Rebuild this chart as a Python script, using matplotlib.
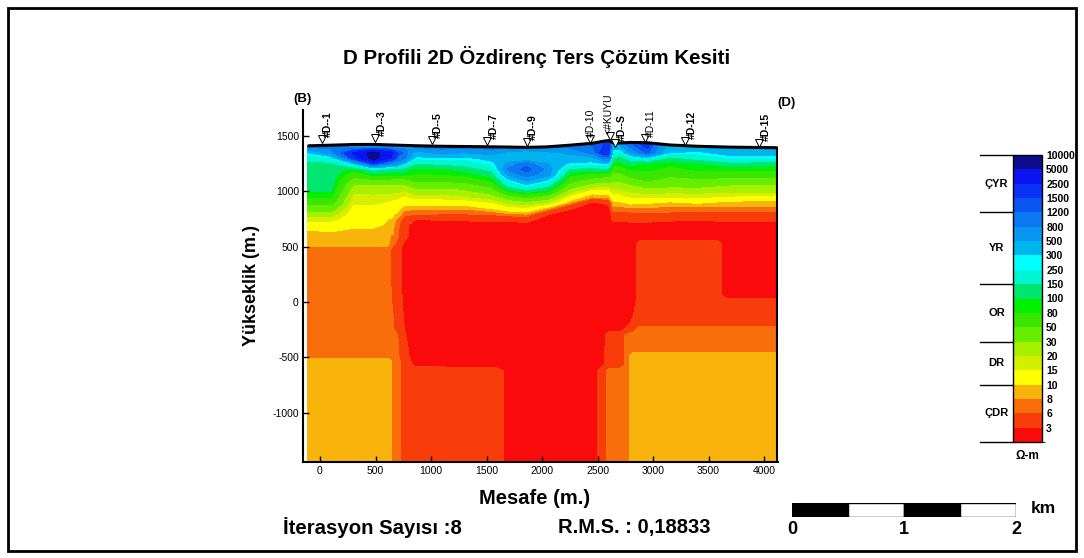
import numpy as np
import matplotlib
matplotlib.use("Agg")
import matplotlib.pyplot as plt
from matplotlib.colors import ListedColormap, BoundaryNorm
from matplotlib.colorbar import ColorbarBase
from matplotlib.patches import Rectangle

plt.rcParams['font.family'] = ['Liberation Sans', 'DejaVu Sans']
plt.rcParams['axes.unicode_minus'] = False

# resistivity class boundaries (ohm-m) and colours, bottom to top
bounds = [1, 3, 6, 8, 10, 15, 20, 30, 50, 80, 100, 150, 250, 300, 500, 800,
          1200, 1500, 2500, 5000, 10000]
cb_colors = ['#fa0a0a', '#f83c0a', '#f86e0a', '#f8b40a', '#ffff00', '#d4f000',
             '#a6f000', '#66ee00', '#3ae600', '#00f000', '#00e670', '#00f5d2',
             '#00ffff', '#00b4f0', '#0a96f0', '#0a78f0', '#0a55f0', '#0a32f5',
             '#0a14f0', '#0c0c8c']
cb_labels = ['3', '6', '8', '10', '15', '20', '30', '50', '80', '100', '150',
             '250', '300', '500', '800', '1200', '1500', '2500', '5000', '10000']
class_names = ['ÇDR', 'DR', 'OR', 'YR', 'ÇYR']
class_edges = [0, 4, 7, 11, 16, 20]

# ---- upper part of the section: surface down to 600 m ----
up_x = [-110, 100, 300, 480, 640, 700, 760, 860, 1100, 1300, 1550, 1700, 1860,
        2050, 2250, 2450, 2560, 2600, 2640, 2700, 2800, 2950, 3150, 3400, 3700, 4120]
topo = [1412, 1418, 1424, 1425, 1420, 1418, 1416, 1413, 1408, 1406, 1403, 1401, 1398,
        1403, 1418, 1435, 1455, 1460, 1440, 1438, 1443, 1440, 1420, 1408, 1400, 1395]
up_z = [1350, 1300, 1250, 1200, 1150, 1100, 1050, 1000, 950, 900, 850, 800, 750,
        700, 650, 600]
# one profile per column: surface, then the up_z levels
up_rho = [
    [1000, 300, 200, 120, 120, 120, 120, 115, 100, 85, 60, 40, 25, 17, 12, 10, 9],
    [1000, 650, 220, 130, 120, 120, 120, 115, 100, 85, 60, 40, 25, 17, 12, 10.5, 9],
    [350, 2600, 1800, 300, 90, 60, 40, 28, 22, 17, 16, 13, 12, 11.5, 11, 9.5, 9],
    [300, 6500, 7000, 1600, 180, 85, 45, 26, 22, 18, 16, 13, 12, 11.5, 11, 9.5, 9],
    [400, 3000, 2400, 700, 130, 85, 42, 27, 22, 17, 14, 12, 11, 9.8, 9.3, 9, 9],
    [450, 1500, 1100, 550, 130, 85, 40, 27, 21, 16, 13, 11, 9.5, 7.5, 6.8, 6.5, 6.5],
    [600, 1100, 900, 280, 120, 85, 40, 27, 19, 14, 11, 9, 7, 5, 4, 3.8, 4],
    [1000, 400, 270, 140, 90, 78, 55, 35, 24, 17, 12, 8.5, 6.5, 3.2, 2, 2, 2],
    [1000, 600, 280, 160, 95, 78, 55, 35, 24, 17, 12, 8.5, 6.3, 3.3, 2, 2, 2],
    [950, 500, 270, 180, 110, 85, 60, 38, 26, 19, 12, 8.5, 6.2, 3.5, 2.2, 2, 2],
    [1000, 600, 350, 260, 170, 110, 85, 55, 38, 24, 15, 10.5, 6.8, 3.8, 2.2, 2, 2],
    [700, 450, 280, 600, 900, 550, 260, 160, 85, 40, 22, 13, 8, 4, 2.2, 2, 2],
    [700, 420, 290, 1000, 1400, 1000, 520, 260, 110, 55, 26, 14, 8.5, 4.5, 2.2, 2, 2],
    [900, 450, 280, 520, 700, 600, 280, 160, 85, 40, 20, 9, 3.5, 2, 2, 2, 2],
    [1000, 550, 400, 270, 130, 85, 60, 38, 23, 13, 8.5, 3.5, 2, 2, 2, 2, 2],
    [1300, 900, 400, 260, 120, 70, 40, 23, 12, 8, 2.8, 2, 2, 2, 2, 2, 2],
    [1400, 2000, 900, 290, 130, 60, 35, 22, 12, 8.5, 3.5, 2, 2, 2, 2, 2, 2],
    [2200, 1800, 900, 280, 120, 60, 35, 22, 12, 8.5, 4, 2.5, 2, 2, 2, 2, 2],
    [600, 230, 130, 90, 60, 40, 32, 24, 17, 13, 9.2, 7.5, 5, 3.5, 2.5, 2, 2],
    [600, 200, 120, 90, 65, 42, 32, 24, 17, 13, 9.5, 7.5, 5, 3.5, 2.3, 2, 2],
    [1300, 550, 180, 110, 85, 60, 40, 27, 21, 15.5, 11, 7.8, 5.5, 3.8, 2.5, 2, 2],
    [1800, 1300, 260, 90, 88, 62, 52, 35, 23, 15.5, 10.5, 7.8, 5.8, 3.8, 2.5, 2, 2],
    [400, 300, 120, 88, 70, 55, 40, 32, 22, 15.5, 9.5, 7.5, 5.5, 3.5, 2.3, 2, 2],
    [400, 280, 170, 95, 85, 62, 45, 33, 22, 16, 10.5, 7.5, 5.5, 3.3, 2.2, 2, 2],
    [450, 350, 260, 120, 85, 60, 42, 28, 22, 14, 9, 7.5, 5, 3.5, 2.5, 2, 2],
    [450, 350, 260, 110, 85, 62, 42, 28, 22, 12, 9, 7.5, 5, 3.5, 2.5, 2, 2],
]

# ---- lower part: 600 m down to the bottom ----
lo_x = [-110, 600, 700, 760, 860, 1600, 1700, 2460, 2540, 2600, 2700, 2760, 2820,
        2880, 3580, 3660, 4120]
lo_z = [600, 520, 480, 380, 60, 10, -180, -240, -300, -430, -480, -530, -570, -620, -1450]
lo_rho = [
    [9, 9, 7, 7, 7, 7, 7, 7, 7, 7, 7, 9, 9, 9, 9],
    [9, 9, 7, 7, 7, 7, 7, 7, 7, 7, 7, 9, 9, 9, 9],
    [6.5, 5, 4.5, 4.5, 4.8, 5, 5.5, 5.5, 6, 6.5, 6.5, 7, 7, 7, 7],
    [4, 2.5, 2, 2, 2.3, 2.4, 2.8, 3, 3.2, 3.8, 4, 4.5, 5, 5, 5],
    [2, 2, 2, 2, 2, 2, 2, 2, 2, 2, 2, 2.2, 2.6, 4.5, 4.5],
    [2, 2, 2, 2, 2, 2, 2, 2, 2, 2, 2, 2, 2, 4.5, 4.5],
    [2, 2, 2, 2, 2, 2, 2, 2, 2, 2, 2, 2, 2, 2, 2],
    [2, 2, 2, 2, 2, 2, 2, 2, 2, 2, 2, 2, 2, 2, 2],
    [2, 2, 2, 2, 2, 2, 2, 2, 2, 2.2, 2.3, 2.4, 2.5, 4.5, 4.5],
    [2, 2, 2, 2, 2, 2, 2, 2, 4.5, 4.5, 4.5, 4.5, 4.5, 7, 7],
    [2, 2, 2, 2, 2, 2, 2, 2, 4.5, 4.5, 4.5, 4.5, 4.5, 7, 7],
    [2, 2, 2, 2, 2, 2, 2, 3.5, 6.5, 7, 7, 7, 7, 7, 7],
    [2, 2, 2, 2, 2, 2, 3.5, 5, 7, 7, 9, 9, 9, 9, 9],
    [2, 4.5, 4.5, 4.5, 4.5, 4.5, 4.5, 7, 7, 7, 9, 9, 9, 9, 9],
    [2, 4.5, 4.5, 4.5, 4.5, 4.5, 4.5, 7, 7, 7, 9, 9, 9, 9, 9],
    [2, 2, 2, 2, 2, 4.5, 4.5, 7, 7, 7, 9, 9, 9, 9, 9],
    [2, 2, 2, 2, 2, 4.5, 4.5, 7, 7, 7, 9, 9, 9, 9, 9],
]

# stations along the profile
st_names = ['#D--1', '#D--3', '#D--5', '#D--7', '#D--9', '#D-10', '<#KUYU', '#D--S',
            '#D-11', '#D-12', '#D-15']
st_x = [15, 495, 1005, 1503, 1860, 2430, 2610, 2655, 2925, 3285, 3951]
st_z = [1473, 1485, 1465, 1456, 1450, 1473, 1505, 1437, 1480, 1456, 1437]
st_label_x = [75, 555, 1065, 1563, 1920, 2440, 2600, 2715, 2985, 3345, 4011]
st_bold = [True, True, True, True, True, False, False, True, False, True, True]

scale_start = [0, 0.5, 1.0, 1.5]
scale_color = ['black', 'white', 'black', 'white']

W, H = 1084, 558
fig = plt.figure(figsize=(W / 100, H / 100), dpi=100)

ax = fig.add_axes([303 / W, 1 - 462 / H, (778 - 303) / W, (462 - 110) / H])
lev = np.log10(bounds)

ncol = len(up_x)
Xu = np.tile(up_x, (len(up_z) + 1, 1))
Yu = np.vstack([topo, np.repeat(np.array(up_z)[:, None], ncol, axis=1)])
Ru = np.log10(np.array(up_rho, dtype=float).T)
ax.contourf(Xu, Yu, Ru, levels=lev, colors=cb_colors)

Xl, Yl = np.meshgrid(lo_x, lo_z)
Rl = np.log10(np.array(lo_rho, dtype=float).T)
ax.contourf(Xl, Yl, Rl, levels=lev, colors=cb_colors)

ax.plot(up_x, topo, color='black', lw=2.2, solid_capstyle='butt')
ax.plot([up_x[-1], up_x[-1]], [lo_z[-1], topo[-1]], color='black', lw=1.5)

for name, x, z, lx, b in zip(st_names, st_x, st_z, st_label_x, st_bold):
    ax.plot(x, z, marker='v', ms=6, mfc='white', mec='black', mew=0.7)
    ax.text(lx, z + 15, name, rotation=90, ha='center', va='bottom',
            fontsize=7.5, fontweight='bold' if b else 'normal')

ax.set_xlim(-153, 4125)
ax.set_ylim(-1446, 1736)
ax.set_xticks(np.arange(0, 4001, 500))
ax.set_yticks(np.arange(-1000, 1501, 500))
ax.tick_params(direction='in', length=4, width=1, labelsize=7.5, pad=3)
for s in ['top', 'right']:
    ax.spines[s].set_visible(False)
for s in ['left', 'bottom']:
    ax.spines[s].set_linewidth(1.5)

fig.text(537 / W, 1 - 57 / H, 'D Profili 2D Özdirenç Ters Çözüm Kesiti',
         ha='center', va='center', fontsize=14.8, fontweight='bold')
fig.text(535 / W, 1 - 498 / H, 'Mesafe (m.)', ha='center', va='center',
         fontsize=14.5, fontweight='bold')
fig.text(252 / W, 1 - 286 / H, 'Yükseklik (m.)', ha='center', va='center',
         rotation=90, fontsize=13, fontweight='bold')
fig.text(302 / W, 1 - 99 / H, '(B)', ha='center', va='center', fontsize=9.5,
         fontweight='bold')
fig.text(786 / W, 1 - 103 / H, '(D)', ha='center', va='center', fontsize=9.5,
         fontweight='bold')
fig.text(283 / W, 1 - 528 / H, 'İterasyon Sayısı :8', ha='left', va='center',
         fontsize=14.7, fontweight='bold')
fig.text(558 / W, 1 - 528 / H, 'R.M.S. : 0,18833', ha='left', va='center',
         fontsize=14.5, fontweight='bold')

# colour scale
cax = fig.add_axes([1013 / W, 1 - 442 / H, 29 / W, 287 / H])
cb = ColorbarBase(cax, cmap=ListedColormap(cb_colors),
                  norm=BoundaryNorm(np.arange(len(cb_colors) + 1), len(cb_colors)),
                  ticks=np.arange(1, len(cb_colors) + 1), orientation='vertical')
cb.set_ticklabels(cb_labels)
cb.outline.set_linewidth(1)
cax.tick_params(length=0, labelsize=7.5, pad=3)
for t in cax.get_yticklabels():
    t.set_fontweight('bold')
tr = cax.get_yaxis_transform()
for e in class_edges:
    cax.plot([-1.15, 0], [e, e], color='black', lw=1, transform=tr, clip_on=False)
for name, a, b in zip(class_names, class_edges[:-1], class_edges[1:]):
    cax.text(-0.57, (a + b) / 2, name, transform=tr, ha='center', va='center',
             fontsize=8, fontweight='bold')
fig.text(1027 / W, 1 - 456 / H, 'Ω-m', ha='center', va='center', fontsize=8.5,
         fontweight='bold')

# km scale bar
sax = fig.add_axes([792 / W, 1 - 517 / H, 224 / W, 14 / H])
sax.bar(scale_start, 1, width=0.5, align='edge', color=scale_color,
        edgecolor='black', lw=1)
sax.set_xlim(0, 2)
sax.set_ylim(0, 1)
sax.axis('off')
for v in [0, 1, 2]:
    sax.text(v, -0.3, str(v), ha='center', va='top', fontsize=13,
             fontweight='bold')
sax.text(2.13, 0.6, 'km', ha='left', va='center', fontsize=12.5, fontweight='bold')

fig.add_artist(Rectangle((8 / W, 1 - 551 / H), (1076 - 8) / W, (551 - 8) / H,
                         transform=fig.transFigure, fill=False, lw=2,
                         edgecolor='black'))

fig.savefig('out.png', dpi=100)
